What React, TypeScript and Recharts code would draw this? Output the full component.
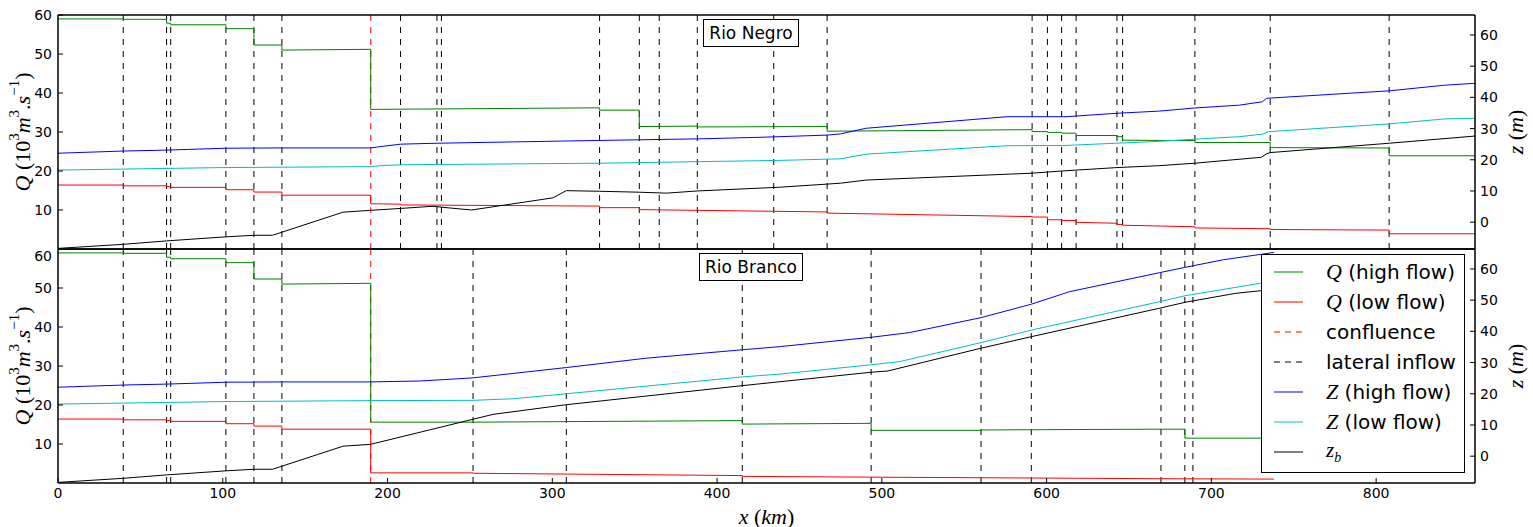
import React from "react";
import { LineChart, Line, XAxis, YAxis, ReferenceLine } from "recharts";

type Pt = [number, number];

const X_TICKS = [0, 100, 200, 300, 400, 500, 600, 700, 800];
const Q_TICKS = [10, 20, 30, 40, 50, 60];
const Z_TICKS = [0, 10, 20, 30, 40, 50, 60];

// distances in km from the mouth; the reach below the confluence is shared
const CONFLUENCE_KM = 189.8;
const lowerInflowsKm = [39.6, 65.9, 68.4, 101.9, 118.9, 135.9];
const negroInflowsKm = [207.9, 230.0, 232.7, 328.7, 352.8, 364.9, 388.0, 434.4, 466.8, 591.2, 600.5, 609.1, 617.9, 642.7, 646.1, 690.0, 735.7, 807.9];
const brancoInflowsKm = [251.9, 308.5, 415.3, 493.5, 560.2, 590.7, 669.4, 683.9, 688.8];

// Q in 10^3 m3/s
const lowerQHigh: Pt[] = [[0, 59.0], [39.6, 59.0], [39.6, 58.9], [65.9, 58.9], [65.9, 57.9], [68.4, 57.9], [68.4, 57.5], [101.9, 57.5], [101.9, 56.5], [118.9, 56.5], [118.9, 52.3], [135.9, 52.3], [135.9, 51.0], [189.8, 51.2]];
const lowerQLow: Pt[] = [[0, 16.4], [39.6, 16.4], [39.6, 16.2], [65.9, 16.2], [65.9, 16.0], [68.4, 16.0], [68.4, 15.8], [101.9, 15.8], [101.9, 15.2], [118.9, 15.2], [118.9, 14.6], [135.9, 14.6], [135.9, 13.8], [189.8, 13.8]];
const negroQHigh: Pt[] = [[189.8, 35.8], [328.7, 36.2], [328.7, 35.6], [352.8, 35.6], [352.8, 31.4], [388.0, 31.5], [388.0, 31.3], [466.8, 31.4], [466.8, 30.2], [591.2, 30.6], [591.2, 30.1], [600.5, 30.1], [600.5, 29.9], [609.1, 29.9], [609.1, 29.7], [617.9, 29.7], [617.9, 29.1], [642.7, 29.1], [642.7, 28.8], [646.1, 28.8], [646.1, 27.9], [690.0, 27.8], [690.0, 27.3], [735.7, 27.3], [735.7, 26.0], [807.9, 25.9], [807.9, 23.9], [860, 23.9]];
const negroQLow: Pt[] = [[189.8, 11.6], [207.9, 11.5], [207.9, 11.3], [328.7, 11.0], [328.7, 10.6], [352.8, 10.6], [352.8, 10.1], [466.8, 9.5], [466.8, 9.2], [591.2, 8.3], [591.2, 8.2], [600.5, 8.2], [600.5, 7.5], [609.1, 7.5], [609.1, 7.3], [617.9, 7.3], [617.9, 6.85], [642.7, 6.6], [642.7, 6.3], [646.1, 6.3], [646.1, 6.1], [690.0, 5.7], [690.0, 5.4], [735.7, 5.2], [735.7, 5.0], [807.9, 4.85], [807.9, 3.9], [860, 3.9]];
const brancoQHigh: Pt[] = [[189.8, 15.6], [251.9, 15.6], [415.3, 16.0], [415.3, 15.1], [493.5, 15.3], [493.5, 13.5], [560.2, 13.5], [560.2, 13.6], [668.0, 13.8], [683.9, 13.8], [683.9, 11.5], [738, 11.5]];
const brancoQLow: Pt[] = [[189.8, 2.6], [251.9, 2.6], [251.9, 2.5], [415.3, 1.9], [415.3, 1.7], [493.5, 1.5], [560.2, 1.35], [668.0, 1.1], [738, 1.0]];

// water level Z and bed z_b in m
const lowerZHigh: Pt[] = [[0, 22.1], [39.6, 22.8], [66, 23.1], [102, 23.7], [136, 23.8], [189.8, 23.8]];
const lowerZLow: Pt[] = [[0, 16.7], [100, 17.5], [189.8, 17.8]];
const lowerZBed: Pt[] = [[0, -8.4], [39.6, -7.1], [66, -6.0], [102, -4.7], [118.9, -4.2], [130.2, -4.2], [173, 3.2], [189.8, 3.8]];
const negroZHigh: Pt[] = [[195.3, 24.2], [207.9, 25.0], [230, 25.3], [328.7, 26.2], [388, 26.7], [426, 27.2], [466.8, 27.9], [475, 28.3], [490.5, 30.1], [576, 33.8], [611.8, 33.8], [642.7, 34.9], [668.4, 35.6], [690, 36.6], [717, 37.5], [731, 38.6], [733.5, 39.7], [808, 42.1], [841.6, 43.9], [860, 44.5]];
const negroZLow: Pt[] = [[195.3, 18.1], [207.9, 18.4], [328.7, 18.9], [438, 19.8], [466.8, 20.2], [475, 20.3], [490.5, 21.8], [576, 24.5], [611.8, 24.6], [668, 25.9], [690, 26.6], [717, 27.4], [731, 28.2], [734.5, 29.0], [808, 31.5], [841.6, 33.1], [860, 33.3]];
const negroZBed: Pt[] = [[207.9, 4.4], [227.6, 5.1], [232.7, 4.8], [251, 3.9], [300.4, 7.8], [308.5, 10.1], [328.7, 9.9], [352.8, 9.6], [369.2, 9.3], [388, 10.0], [438, 11.2], [466.8, 12.2], [475, 12.5], [490.5, 13.5], [591.2, 15.7], [609.1, 16.4], [642.7, 17.5], [668, 18.1], [690, 18.9], [730.4, 20.8], [733.4, 21.9], [735.7, 22.3], [808, 25.3], [860, 27.6]];
const brancoZHigh: Pt[] = [[220, 24.1], [251.9, 25.1], [308.5, 28.4], [357, 31.4], [415.3, 34.1], [438, 35.1], [493.5, 38.1], [516.8, 39.6], [560.2, 44.4], [590.7, 48.7], [613.8, 52.7], [668.4, 58.8], [683.9, 60.5], [706.7, 62.9], [738, 65.3]];
const brancoZLow: Pt[] = [[251.9, 17.9], [276, 18.4], [308.5, 20.0], [415.3, 25.4], [438, 26.3], [493.5, 29.3], [510.7, 30.3], [560.2, 36.4], [590.7, 40.4], [668.4, 49.5], [683.9, 51.4], [729.4, 55.4], [738, 56.1]];
const brancoZBed: Pt[] = [[264, 13.4], [308.5, 16.5], [415.3, 22.6], [493.5, 26.9], [503.6, 27.3], [560.2, 34.6], [590.7, 38.3], [668.4, 47.4], [683.9, 49.3], [714.8, 52.2], [729.4, 53.0], [738, 53.4]];

const C = { qHigh: "#008000", qLow: "#ff0000", zHigh: "#0000ff", zLow: "#00bfbf", bed: "#000000" };
const SANS = "'DejaVu Sans', sans-serif";
const MATH = "'Liberation Serif', serif";
const tickStyle = { fontFamily: SANS, fontSize: 14, fill: "#000" };
const frame = { stroke: "#000", strokeWidth: 1.5 };

const rows = (pts: Pt[]) => pts.map(([x, y]) => ({ x, y }));

function QLabel({ viewBox }: any) {
  const cx = 22, cy = viewBox.y + viewBox.height / 2;
  return (
    <text x={cx} y={cy} transform={`rotate(-90 ${cx} ${cy})`} textAnchor="middle" dominantBaseline="central" fontFamily={MATH} fontSize={22} fill="#000">
      <tspan fontStyle="italic">Q</tspan><tspan> (10</tspan><tspan dy={-8} fontSize={15}>3</tspan>
      <tspan dy={8} fontStyle="italic">m</tspan><tspan dy={-8} fontSize={15}>3</tspan>
      <tspan dy={8}>.</tspan><tspan fontStyle="italic">s</tspan><tspan dy={-8} fontSize={15}>−1</tspan><tspan dy={8}>)</tspan>
    </text>
  );
}

function ZLabel({ viewBox }: any) {
  const cx = 1515, cy = viewBox.y + viewBox.height / 2;
  return (
    <text x={cx} y={cy} transform={`rotate(-90 ${cx} ${cy})`} textAnchor="middle" dominantBaseline="central" fontFamily={MATH} fontSize={22} fill="#000">
      <tspan fontStyle="italic">z</tspan> (<tspan fontStyle="italic">m</tspan>)
    </text>
  );
}

function XLabel({ viewBox }: any) {
  const cx = viewBox.x + viewBox.width / 2, cy = viewBox.y + 33;
  return (
    <text x={cx} y={cy} textAnchor="middle" dominantBaseline="central" fontFamily={MATH} fontSize={22} fill="#000">
      <tspan fontStyle="italic">x</tspan> (<tspan fontStyle="italic">km</tspan>)
    </text>
  );
}

interface PanelProps {
  height: number; marginTop: number; xAxisHeight: number; showX: boolean;
  qHigh: Pt[]; qLow: Pt[]; zHigh: Pt[]; zLow: Pt[]; zBed: Pt[]; inflows: number[];
}

function RiverPanel(p: PanelProps) {
  const line = (id: string, pts: Pt[], color: string) => (
    <Line yAxisId={id} data={rows(pts)} dataKey="y" type="linear" stroke={color} strokeWidth={1}
      dot={false} activeDot={false} isAnimationActive={false} />
  );
  return (
    <LineChart width={1533} height={p.height} margin={{ top: p.marginTop, right: 0, bottom: 0, left: 0 }}>
      <XAxis dataKey="x" type="number" domain={[0, 860]} ticks={X_TICKS} allowDataOverflow height={p.xAxisHeight}
        axisLine={frame} tickLine={{ stroke: "#000" }} tickSize={-5} tickMargin={10}
        tick={p.showX ? tickStyle : false} label={p.showX ? XLabel : undefined} />
      <XAxis xAxisId="top" orientation="top" dataKey="x" type="number" domain={[0, 860]} ticks={X_TICKS} height={1}
        axisLine={frame} tickLine={{ stroke: "#000" }} tickSize={-5} tick={false} />
      <YAxis yAxisId="q" orientation="left" width={58} type="number" domain={[0, 60]} ticks={Q_TICKS} allowDataOverflow
        axisLine={frame} tickLine={{ stroke: "#000" }} tickSize={-5} tickMargin={11} tick={tickStyle} label={QLabel} />
      <YAxis yAxisId="z" orientation="right" width={58} type="number" domain={[-8.6, 66.4]} ticks={Z_TICKS} allowDataOverflow
        axisLine={frame} tickLine={{ stroke: "#000" }} tickSize={-5} tickMargin={10} tick={tickStyle} label={ZLabel} />
      {[...lowerInflowsKm, ...p.inflows].map((x) => (
        <ReferenceLine key={x} yAxisId="q" x={x} stroke="#000" strokeWidth={1} strokeDasharray="6 6" />
      ))}
      <ReferenceLine yAxisId="q" x={CONFLUENCE_KM} stroke="#ff0000" strokeWidth={1} strokeDasharray="6 6" />
      {line("q", [...lowerQHigh, ...p.qHigh], C.qHigh)}
      {line("q", [...lowerQLow, ...p.qLow], C.qLow)}
      {line("z", [...lowerZHigh, ...p.zHigh], C.zHigh)}
      {line("z", [...lowerZLow, ...p.zLow], C.zLow)}
      {line("z", [...lowerZBed, ...p.zBed], C.bed)}
    </LineChart>
  );
}

const legendRows = [
  { sym: "Q", text: " (high flow)", color: C.qHigh, dashed: false },
  { sym: "Q", text: " (low flow)", color: C.qLow, dashed: false },
  { sym: "", text: "confluence", color: "#ff0000", dashed: true },
  { sym: "", text: "lateral inflow", color: "#000", dashed: true },
  { sym: "Z", text: " (high flow)", color: C.zHigh, dashed: false },
  { sym: "Z", text: " (low flow)", color: C.zLow, dashed: false },
  { sym: "zb", text: "", color: C.bed, dashed: false },
];

function LegendBox() {
  return (
    <div style={{ position: "absolute", left: 1261, top: 254, width: 204, height: 219, border: "1px solid #000", background: "#fff", boxSizing: "border-box" }}>
      {legendRows.map((r, i) => (
        <div key={i} style={{ position: "absolute", left: 12, top: 16.7 + i * 30.1 - 15, height: 30, display: "flex", alignItems: "center", whiteSpace: "pre" }}>
          <svg width={29} height={4} style={{ marginRight: 23 }}>
            <line x1={0} x2={29} y1={2} y2={2} stroke={r.color} strokeWidth={1} strokeDasharray={r.dashed ? "6 5" : undefined} />
          </svg>
          {r.sym === "zb" ? (
            <span style={{ fontFamily: MATH, fontStyle: "italic", fontSize: 21 }}>z<sub style={{ fontSize: 14 }}>b</sub></span>
          ) : (
            <span style={{ fontFamily: SANS, fontSize: 20 }}>
              {r.sym && <span style={{ fontFamily: MATH, fontStyle: "italic", fontSize: 22 }}>{r.sym}</span>}{r.text}
            </span>
          )}
        </div>
      ))}
    </div>
  );
}

function TitleBox({ left, top, width, text }: { left: number; top: number; width: number; text: string }) {
  return (
    <div style={{ position: "absolute", left, top, width, height: 28, border: "1px solid #000", background: "#fff", boxSizing: "border-box",
      display: "flex", alignItems: "center", justifyContent: "center", fontFamily: SANS, fontSize: 17 }}>{text}</div>
  );
}

export default function App() {
  return (
    <div style={{ position: "absolute", left: 0, top: 0, width: 1533, height: 527, background: "#fff", fontFamily: SANS }}>
      <style>{`.recharts-surface{overflow:visible}`}</style>
      <div style={{ position: "absolute", left: 0, top: 0 }}>
        <RiverPanel height={250} marginTop={14} xAxisHeight={1} showX={false}
          qHigh={negroQHigh} qLow={negroQLow} zHigh={negroZHigh} zLow={negroZLow} zBed={negroZBed} inflows={negroInflowsKm} />
      </div>
      <div style={{ position: "absolute", left: 0, top: 248 }}>
        <RiverPanel height={279} marginTop={0} xAxisHeight={44} showX
          qHigh={brancoQHigh} qLow={brancoQLow} zHigh={brancoZHigh} zLow={brancoZLow} zBed={brancoZBed} inflows={brancoInflowsKm} />
      </div>
      <TitleBox left={703} top={19} width={96} text="Rio Negro" />
      <TitleBox left={699} top={253} width={104} text="Rio Branco" />
      <LegendBox />
    </div>
  );
}
